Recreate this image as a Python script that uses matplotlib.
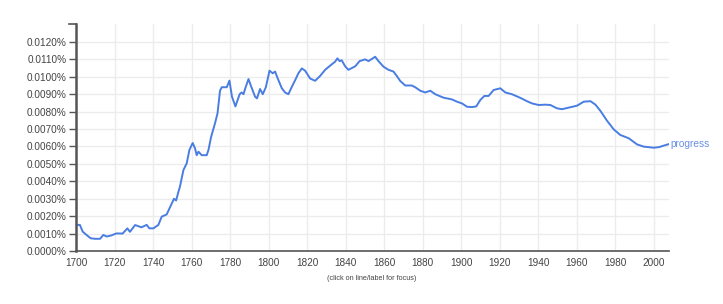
import matplotlib
matplotlib.use("Agg")
import matplotlib.pyplot as plt
from matplotlib.ticker import FixedLocator, FuncFormatter

plt.rcParams['font.family'] = ['Liberation Sans', 'DejaVu Sans']

series_name = "progress"
years = [1700, 1702, 1703.5, 1705.5, 1707.6, 1709.9, 1712.5, 1714.2, 1716, 1718.5,
         1721, 1724.2, 1726.7, 1728, 1730.7, 1734, 1736.7, 1738.1, 1740.2, 1742.8,
         1744.5, 1747.1, 1748.8, 1750.9, 1752, 1753.2, 1754, 1755.8, 1757.5, 1758.9,
         1760.6, 1761.8, 1762.7, 1763.6, 1765.3, 1767.9, 1768.8, 1770.2, 1772.2, 1773.5,
         1774.8, 1775.7, 1778.3, 1779.7, 1781, 1782.8, 1785, 1786, 1787, 1787.8,
         1789.6, 1790.8, 1793, 1794, 1795.6, 1797, 1798.6, 1800.5, 1802.2, 1803.4,
         1804.8, 1806.9, 1808.6, 1810.3, 1812, 1813.8, 1815.5, 1817.3, 1819, 1821.6,
         1824.2, 1826.8, 1829.4, 1832, 1834.6, 1835.8, 1836.9, 1838, 1839.8, 1841.5,
         1843.3, 1845, 1847.3, 1850.2, 1851.9, 1855.4, 1857.1, 1859.7, 1862.3, 1864.9,
         1866.6, 1868.4, 1871, 1874.4, 1876.2, 1878.8, 1881.4, 1884, 1886.6, 1890.9,
         1895.3, 1897.9, 1900.5, 1903.1, 1905.7, 1907.9, 1910, 1912.1, 1914.3, 1916.9,
         1920.4, 1923, 1926.4, 1930.8, 1934.2, 1936.9, 1940.3, 1943.8, 1946.4, 1949.8,
         1952.4, 1955.9, 1960.2, 1963.7, 1967.2, 1969.8, 1972.4, 1975.8, 1979.3, 1982.7,
         1987.1, 1991.4, 1994.9, 2000, 2002.7, 2005.3, 2008]
values = [0.00149, 0.00150, 0.00111, 0.00092, 0.00073, 0.00070, 0.00070, 0.00092, 0.00083, 0.00090,
          0.00101, 0.00100, 0.00130, 0.00110, 0.00149, 0.00136, 0.00150, 0.00130, 0.00130, 0.00150,
          0.00197, 0.00210, 0.00250, 0.00300, 0.00290, 0.00340, 0.00370, 0.00465, 0.00503, 0.00580,
          0.00620, 0.00590, 0.00550, 0.00570, 0.00550, 0.00550, 0.00580, 0.00656, 0.00733, 0.00790,
          0.00920, 0.00940, 0.00940, 0.00978, 0.00886, 0.00830, 0.00900, 0.00910, 0.00900, 0.00930,
          0.00987, 0.00950, 0.00886, 0.00876, 0.00930, 0.00900, 0.00940, 0.01035, 0.01020, 0.01030,
          0.00990, 0.00934, 0.00910, 0.00900, 0.00940, 0.00980, 0.01020, 0.01048, 0.01035, 0.00990,
          0.00977, 0.01005, 0.01040, 0.01064, 0.01087, 0.01106, 0.01090, 0.01095, 0.01060, 0.01040,
          0.01050, 0.01060, 0.01090, 0.01100, 0.01090, 0.01115, 0.01090, 0.01058, 0.01040, 0.01030,
          0.01005, 0.00976, 0.00950, 0.00950, 0.00940, 0.00920, 0.00910, 0.00920, 0.00900, 0.00880,
          0.00870, 0.00857, 0.00847, 0.00828, 0.00826, 0.00830, 0.00867, 0.00890, 0.00890, 0.00924,
          0.00934, 0.00910, 0.00900, 0.00879, 0.00860, 0.00847, 0.00838, 0.00840, 0.00838, 0.00819,
          0.00814, 0.00823, 0.00834, 0.00857, 0.00860, 0.00840, 0.00804, 0.00748, 0.00698, 0.00666,
          0.00647, 0.00612, 0.00599, 0.00593, 0.00596, 0.00605, 0.00614]

x_ticks = [1700, 1720, 1740, 1760, 1780, 1800, 1820, 1840, 1860, 1880, 1900, 1920, 1940, 1960, 1980, 2000]
y_ticks = [0.0, 0.001, 0.002, 0.003, 0.004, 0.005, 0.006, 0.007, 0.008, 0.009, 0.010, 0.011, 0.012]

fig = plt.figure(figsize=(7.23, 3.04), dpi=100)
ax = fig.add_axes([76/723, 1 - 251/304, (669-76)/723, (251-24)/304])

line_color = '#4a7de2'
ax.plot(years, values, color=line_color, lw=1.4, solid_joinstyle='round')
ax.set_xlim(1700, 2008)
ax.set_ylim(0, 0.01303)

ax.xaxis.set_major_locator(FixedLocator(x_ticks))
ax.yaxis.set_major_locator(FixedLocator(y_ticks))
ax.yaxis.set_major_formatter(FuncFormatter(lambda v, p: f"{v:.4f}%"))
ax.grid(True, color='#ececec', lw=1)
ax.set_axisbelow(True)

for s in ['top', 'right']:
    ax.spines[s].set_visible(False)
ax.spines['left'].set_color('#555555')
ax.spines['left'].set_linewidth(1.8)
ax.spines['bottom'].set_color('#555555')
ax.spines['bottom'].set_linewidth(1.2)
ax.tick_params(axis='y', length=5, width=1, color='#555555', labelsize=7.2, labelcolor='#444444', pad=2)
ax.tick_params(axis='x', length=0, labelsize=7.2, labelcolor='#444444', pad=5)
# top end tick on the left spine
ax.plot([-0.012, 0], [1, 1], transform=ax.transAxes, color='#555555', lw=1.2, clip_on=False)

ax.text(years[-1] + 0.8, values[-1], series_name, color='#6b8fe6', fontsize=7.3,
        va='center', ha='left', clip_on=False)

fig.text(372/723, 1 - 278/304, "(click on line/label for focus)", fontsize=5.2,
         color='#444444', ha='center', va='center')

fig.savefig("out.png", dpi=100)
